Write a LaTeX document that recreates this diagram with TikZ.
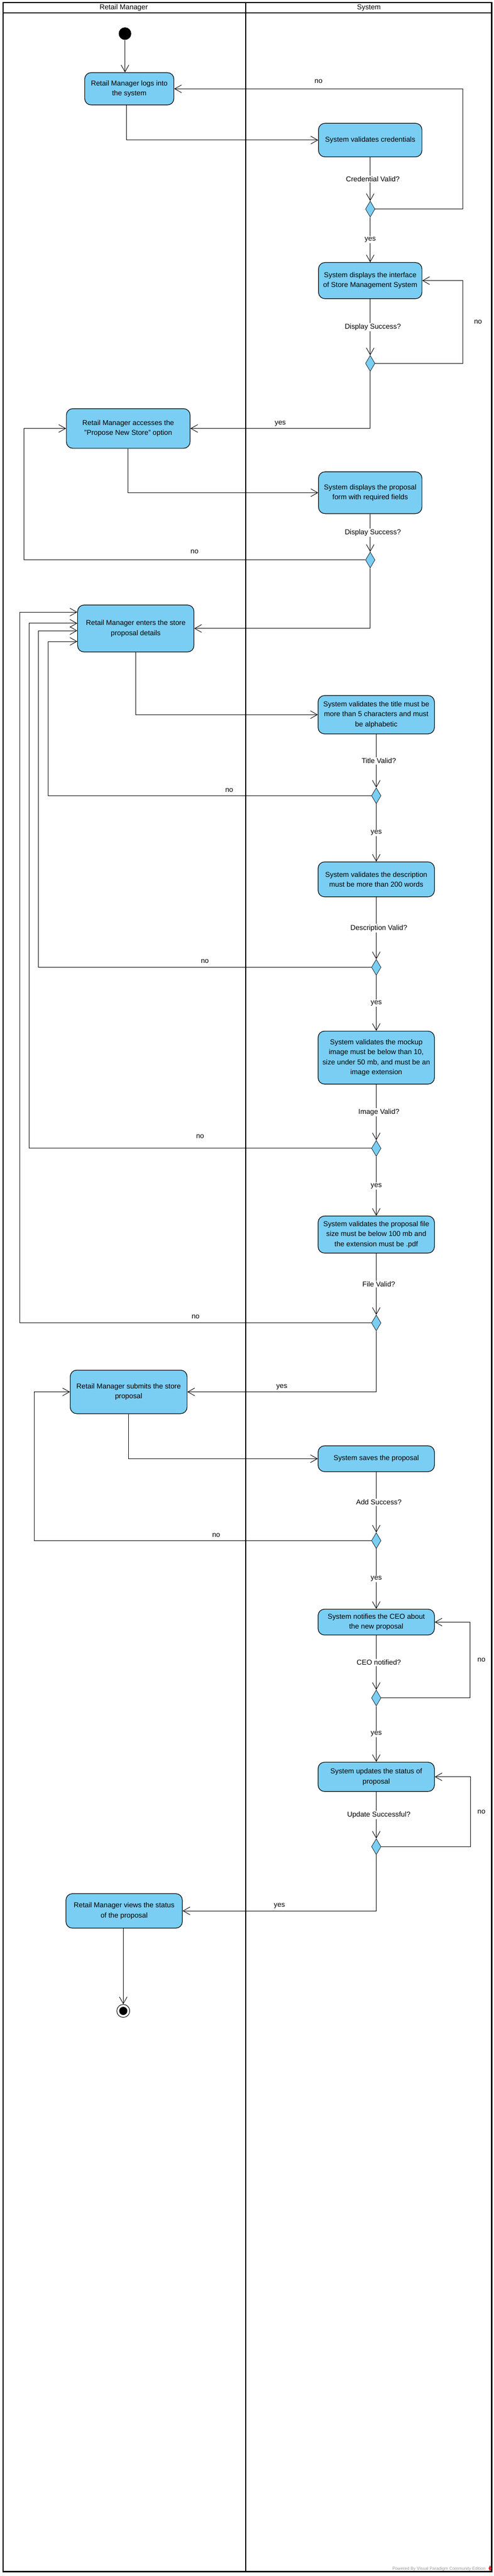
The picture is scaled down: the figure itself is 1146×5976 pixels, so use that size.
\documentclass[tikz,border=0pt]{standalone}
\usepackage{fontspec}
\setmainfont{Liberation Sans}
\usetikzlibrary{shapes.geometric,arrows.meta}
\definecolor{actblue}{RGB}{122,206,244}
\definecolor{vpgray}{RGB}{150,150,150}
\definecolor{vpred}{RGB}{215,40,40}

\begin{document}
\begin{tikzpicture}[x=1pt,y=1pt,yscale=-1,xscale=1,
  font=\fontsize{16.5}{23}\selectfont,
  lane/.style={line width=3pt},
  act/.style={draw, line width=1.4pt, fill=actblue, rounded corners=15pt, align=center, inner sep=4pt},
  dec/.style={diamond, draw, line width=0.8pt, fill=actblue, inner sep=0pt, minimum width=22pt, minimum height=37pt},
  initst/.style={circle, fill=black, minimum size=29pt, inner sep=0pt},
  finalst/.style={circle, draw, line width=1.2pt, fill=white, minimum size=30pt, inner sep=0pt,
    path picture={\fill[black] (path picture bounding box.center) circle (9.5pt);}},
  flow/.style={line width=1.1pt, -{Straight Barb[length=16pt,width=18pt,line width=1.1pt]}},
  cond/.style={fill=white, inner sep=2pt, xshift=6pt},
  guard/.style={fill=white, inner sep=2pt}
]
\useasboundingbox (0,0) rectangle (1146,5976);

%Swimlanes
\draw[lane] (7,6) rectangle (1141,5966);
\draw[lane] (7,30) -- (1141,30);
\draw[lane] (570,6) -- (570,5966);
% Text Node
\node (laneRM) at (287,18) {Retail Manager};
% Text Node
\node (laneSys) at (856,18) {System};

%Rails of the loops
\coordinate (railR1) at (1074,0);
\coordinate (railR2) at (1090,0);
\coordinate (railR3) at (1092,0);
\coordinate (railL1) at (55,0);
\coordinate (railL2) at (79,0);
\coordinate (in4) at (112,1488);
\coordinate (in5) at (89,1463);
\coordinate (in6) at (67,1446);
\coordinate (in7) at (46,1420);

%Shape: Initial
\node[initst] (start) at (290,78) {};

%Shape: Actions
\node[act, minimum width=207pt, minimum height=75pt] (a1) at (300,206) {Retail Manager logs into\\the system};
\node[act, minimum width=240pt, minimum height=78pt] (a2) at (859,325) {System validates credentials};
\node[act, minimum width=240pt, minimum height=84pt] (a3) at (859,651) {System displays the interface\\of Store Management System};
\node[act, minimum width=287pt, minimum height=92pt] (a4) at (297.5,994) {Retail Manager accesses the\\"Propose New Store" option};
\node[act, minimum width=240pt, minimum height=97pt] (a5) at (859,1143) {System displays the proposal\\form with required fields};
\node[act, minimum width=270pt, minimum height=109pt] (a6) at (315,1458) {Retail Manager enters the store\\proposal details};
\node[act, minimum width=270pt, minimum height=89pt] (a7) at (873,1658) {System validates the title must be\\more than 5 characters and must\\be alphabetic};
\node[act, minimum width=270pt, minimum height=81pt] (a8) at (873,2040) {System validates the description\\must be more than 200 words};
\node[act, minimum width=270pt, minimum height=123pt] (a9) at (873,2453.5) {System validates the mockup\\image must be below than 10,\\size under 50 mb, and must be an\\image extension};
\node[act, minimum width=270pt, minimum height=86pt] (a10) at (873,2864) {System validates the proposal file\\size must be below 100 mb and\\the extension must be .pdf};
\node[act, minimum width=271pt, minimum height=101pt] (a11) at (298.5,3229) {Retail Manager submits the store\\proposal};
\node[act, minimum width=270pt, minimum height=60pt] (a12) at (873,3384) {System saves the proposal};
\node[act, minimum width=270pt, minimum height=60pt] (a13) at (873,3763) {System notifies the CEO about\\the new proposal};
\node[act, minimum width=270pt, minimum height=68pt] (a14) at (873,4122) {System updates the status of\\proposal};
\node[act, minimum width=270pt, minimum height=80pt] (a15) at (288,4433) {Retail Manager views the status\\of the proposal};

%Shape: Decisions
\node[dec] (d1) at (859,485) {};
\node[dec] (d2) at (859,843) {};
\node[dec] (d3) at (859,1299) {};
\node[dec] (d4) at (873,1846) {};
\node[dec] (d5) at (873,2244) {};
\node[dec] (d6) at (873,2664) {};
\node[dec] (d7) at (873,3069) {};
\node[dec] (d8) at (873,3574) {};
\node[dec] (d9) at (873,3939) {};
\node[dec] (d10) at (873,4284) {};

%Shape: Final
\node[finalst] (stop) at (286,4665) {};

%Flows
\draw[flow] (start) -- (start |- a1.north);
\draw[flow] ([xshift=-7pt]a1.south) |- (a2.west);
\draw[flow] (a2) -- node[cond]{Credential Valid?} (d1);
\draw[flow] (d1.east) -- (d1.east -| railR1) |- node[pos=0.75, above, inner sep=12pt]{no} (a1.east);
\draw[flow] (d1) -- node[guard]{yes} (a3);
\draw[flow] (a3) -- node[cond]{Display Success?} (d2);
\draw[flow] (d2.east) -- (d2.east -| railR1) |- node[pos=0.25, right=22pt]{no} (a3.east);
\draw[flow] (d2.south) |- node[pos=0.75, above, inner sep=5pt]{yes} (a4.east);
\draw[flow] (a4.south) |- (a5.west);
\draw[flow] (a5) -- node[cond]{Display Success?} (d3);
\draw[flow] (d3.west) -- node[above, inner sep=14pt]{no} (d3.west -| railL1) |- (a4.west);
\draw[flow] (d3.south) |- (a6.east);
\draw[flow] (a6.south) |- (a7.west);
\draw[flow] (a7) -- node[cond]{Title Valid?} (d4);
\draw[flow] (d4.west) -- node[pos=0.44, above, inner sep=8pt]{no} (d4.west -| in4) -- (in4) -- (in4 -| a6.west);
\draw[flow] (d4) -- node[guard]{yes} (a8);
\draw[flow] (a8) -- node[cond]{Description Valid?} (d5);
\draw[flow] (d5.west) -- node[above, inner sep=9pt]{no} (d5.west -| in5) -- (in5) -- (in5 -| a6.west);
\draw[flow] (d5) -- node[guard]{yes} (a9);
\draw[flow] (a9) -- node[cond]{Image Valid?} (d6);
\draw[flow] (d6.west) -- node[above, inner sep=22pt]{no} (d6.west -| in6) -- (in6) -- (in6 -| a6.west);
\draw[flow] (d6) -- node[guard]{yes} (a10);
\draw[flow] (a10) -- node[cond]{File Valid?} (d7);
\draw[flow] (d7.west) -- node[above, inner sep=9pt]{no} (d7.west -| in7) -- (in7) -- (in7 -| a6.west);
\draw[flow] (d7.south) |- node[pos=0.75, above, inner sep=5pt]{yes} (a11.east);
\draw[flow] (a11.south) |- (a12.west);
\draw[flow] (a12) -- node[cond]{Add Success?} (d8);
\draw[flow] (d8.west) -- node[pos=0.46, above, inner sep=8pt]{no} (d8.west -| railL2) |- (a11.west);
\draw[flow] (d8) -- node[guard]{yes} (a13);
\draw[flow] (a13) -- node[cond]{CEO notified?} (d9);
\draw[flow] (d9.east) -- (d9.east -| railR2) |- node[pos=0.25, right=14pt]{no} (a13.east);
\draw[flow] (d9) -- node[guard]{yes} (a14);
\draw[flow] (a14) -- node[cond]{Update Successful?} (d10);
\draw[flow] (d10.east) -- (d10.east -| railR3) |- node[pos=0.25, right=12pt]{no} (a14.east);
\draw[flow] (d10.south) |- node[pos=0.75, above, inner sep=5pt]{yes} (a15.east);
\draw[flow] (a15.south -| stop) -- (stop);

% Text Node
\node[text=vpgray, font=\fontsize{10}{11}\selectfont, anchor=east] (vpnote) at (1130,5960) {Powered By Visual Paradigm Community Edition};
\node[diamond, fill=vpred, minimum width=7pt, minimum height=14pt, inner sep=0pt] (vplogo) at (1137,5958) {};

\end{tikzpicture}
\end{document}
